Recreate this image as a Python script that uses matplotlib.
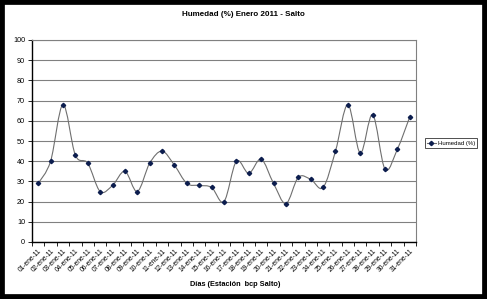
import numpy as np
import matplotlib.pyplot as plt
from matplotlib.path import Path
from matplotlib.patches import PathPatch, Rectangle
from matplotlib.lines import Line2D

plt.rcParams['font.family'] = ['Liberation Sans', 'DejaVu Sans']

dias = ['%02d-ene-11' % d for d in range(1, 32)]
humedad = [29, 40, 68, 43, 39, 25, 28, 35, 25, 39, 45, 38, 29, 28, 27, 20,
           40, 34, 41, 29, 19, 32, 31, 27, 45, 68, 44, 63, 36, 46, 62]
yticks = list(range(0, 101, 10))

def smooth_path(x, y):
    # bezier curve like the "smoothed line" option of spreadsheet charts
    n = len(x)
    px = np.concatenate([[x[0]], x, [x[-1]]])
    py = np.concatenate([[y[0]], y, [y[-1]]])
    verts = [(x[0], y[0])]
    codes = [Path.MOVETO]
    for i in range(n - 1):
        j = i + 1
        c1 = (px[j] + (px[j+1] - px[j-1]) / 6, py[j] + (py[j+1] - py[j-1]) / 6)
        c2 = (px[j+1] - (px[j+2] - px[j]) / 6, py[j+1] - (py[j+2] - py[j]) / 6)
        verts += [c1, c2, (px[j+1], py[j+1])]
        codes += [Path.CURVE4] * 3
    return Path(verts, codes)

fig = plt.figure(figsize=(4.87, 2.99), dpi=100)
ax = fig.add_axes([32/487, 1 - 242/299, (416-32)/487, (242-40)/299])

x = np.arange(len(humedad))
ax.add_patch(PathPatch(smooth_path(x, np.array(humedad, float)), fill=False,
                       edgecolor='#6f6f6f', lw=0.8))
ax.plot(x, humedad, ls='none', marker='D', ms=2.2, color='#0c1d4e')

ax.set_xlim(-0.5, len(humedad) - 0.5)
ax.set_ylim(0, 100)
ax.set_yticks(yticks)
ax.set_yticklabels([str(v) for v in yticks], fontsize=5.2)
ax.yaxis.grid(True, color='#808080', lw=0.8)
ax.set_axisbelow(True)

ax.set_xticks(x)
ax.set_xticklabels(dias, rotation=45, ha='right', rotation_mode='anchor', fontsize=4.8)
ax.set_xticks(np.arange(-0.5, len(humedad)), minor=True)
ax.tick_params(axis='x', which='major', length=0, pad=4)
ax.tick_params(axis='x', which='minor', length=3, width=0.6)
ax.tick_params(axis='y', length=3, width=0.6, pad=2)

for s in ['top', 'right']:
    ax.spines[s].set_color('#808080')
    ax.spines[s].set_linewidth(0.8)
for s in ['left', 'bottom']:
    ax.spines[s].set_color('black')
    ax.spines[s].set_linewidth(1.0)

fig.text(243.5/487, 1 - 15/299, 'Humedad (%) Enero 2011 - Salto', ha='center', va='center',
         fontsize=5.8, fontweight='bold')
fig.text(235/487, 1 - 284/299, 'Días (Estación  bcp Salto)', ha='center', va='center',
         fontsize=5.3, fontweight='bold')

handle = Line2D([], [], color='#6f6f6f', lw=0.8, marker='D', ms=2.2,
                markerfacecolor='#0c1d4e', markeredgecolor='#0c1d4e')
leg = fig.legend([handle], ['Humedad (%)'], loc='center', bbox_to_anchor=(451/487, 1 - 143/299),
                 fontsize=4.3, frameon=True, fancybox=False, edgecolor='black',
                 handlelength=1.6, handletextpad=0.3, borderpad=0.35, borderaxespad=0)
leg.get_frame().set_linewidth(0.6)

# black outer frame
fig.patches.append(Rectangle((0, 0), 1, 1, transform=fig.transFigure, fill=False,
                             edgecolor='black', lw=7, zorder=10))

fig.savefig('out.png', dpi=100)
